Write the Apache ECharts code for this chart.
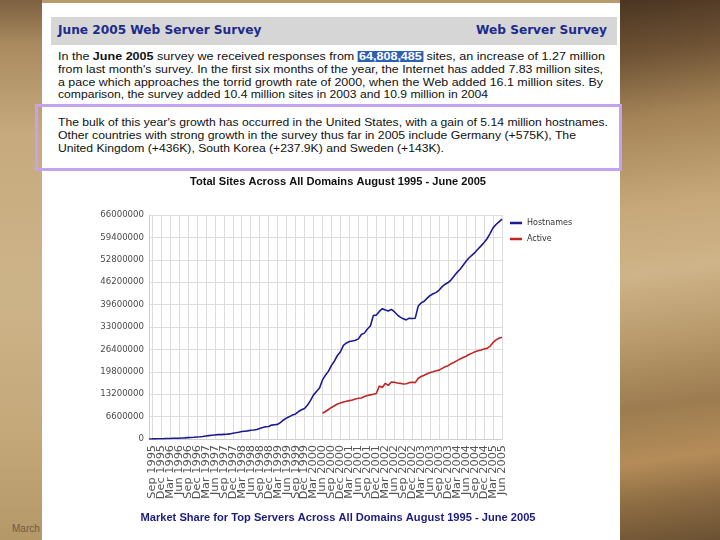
<!DOCTYPE html>
<html><head><meta charset="utf-8">
<script src="https://cdn.jsdelivr.net/npm/echarts@6/dist/echarts.min.js"></script>
<style>
html,body{margin:0;padding:0;width:720px;height:540px;overflow:hidden;}
body{position:relative;background:#b89a6c;}
#bgL{position:absolute;left:0;top:0;width:42px;height:540px;
 background:linear-gradient(180deg,#7d6040 0%,#a88a5e 8%,#c7ab7f 25%,#cdb388 55%,#c4a87a 80%,#b59868 100%);}
#bgR{position:absolute;left:620px;top:0;width:100px;height:540px;
 background:linear-gradient(172deg,#4a3522 0%,#6e5234 10%,#a58558 22%,#c6a87a 38%,#cfb489 50%,#b89a6c 62%,#9c7c50 74%,#b48c58 84%,#8a6a42 92%,#6b5133 100%);}
#page{position:absolute;left:42px;top:3px;width:578px;height:537px;background:#fff;}
#hdr{position:absolute;left:51px;top:17px;width:566px;height:28px;background:#d6d6d6;}
.h{position:absolute;top:6px;font:bold 11.7px "DejaVu Sans";color:#1c2a8c;white-space:nowrap;}
.p{position:absolute;left:58px;font:10.3px "Liberation Sans";color:#111;white-space:nowrap;}
.p .ln{display:block;height:12.8px;line-height:12.8px;}
.p .ln span.t{display:inline-block;transform-origin:0 50%;}
.hl{background:#2f5fb5;color:#fff;font-weight:bold;padding:0 1px;}
#box{position:absolute;left:35px;top:104px;width:581px;height:61px;border:3px solid #c3a3ef;}
#march{position:absolute;left:12px;top:523px;font:10px "Liberation Sans";color:#6d5c46;}
#chart{position:absolute;left:0;top:0;width:720px;height:540px;z-index:5;}
</style></head>
<body>
<div id="bgL"></div><div id="bgR"></div>
<div id="march">March</div>
<div id="page"></div>
<div id="hdr"></div>
<div class="h" id="hl" style="left:58px;top:23px">June 2005 Web Server Survey</div>
<div class="h" id="hr" style="left:476px;top:23px">Web Server Survey</div>
<div class="p" id="p1" style="top:51px">
 <div class="ln"><span class="t" data-w="547">In the <b>June 2005</b> survey we received responses from <span class="hl">64,808,485</span> sites, an increase of 1.27 million</span></div>
 <div class="ln"><span class="t" data-w="545">from last month's survey. In the first six months of the year, the Internet has added 7.83 million sites,</span></div>
 <div class="ln"><span class="t" data-w="545">a pace which approaches the torrid growth rate of 2000, when the Web added 16.1 million sites. By</span></div>
 <div class="ln"><span class="t" data-w="430">comparison, the survey added 10.4 million sites in 2003 and 10.9 million in 2004</span></div>
</div>
<div id="box"></div>
<div class="p" id="p2" style="top:117px">
 <div class="ln"><span class="t" data-w="550">The bulk of this year's growth has occurred in the United States, with a gain of 5.14 million hostnames.</span></div>
 <div class="ln"><span class="t" data-w="518">Other countries with strong growth in the survey thus far in 2005 include Germany (+575K), The</span></div>
 <div class="ln"><span class="t" data-w="386">United Kingdom (+436K), South Korea (+237.9K) and Sweden (+143K).</span></div>
</div>
<div id="chart"></div>
<script>
// ---- data ----
const monthNames = ['Jan','Feb','Mar','Apr','May','Jun','Jul','Aug','Sep','Oct','Nov','Dec'];
const startYear = 1995, startMonth = 7, monthCount = 119; // Aug 1995 .. Jun 2005
const categories = [];
for (let i = 0; i < monthCount; i++) {
  const mi = startMonth + i;
  categories.push(monthNames[mi % 12] + ' ' + (startYear + Math.floor(mi / 12)));
}
// Hostnames, millions, monthly Aug 1995 - Jun 2005
const hostnames = [0.02,0.03,0.05,0.07,0.08,0.1,0.13,0.16,0.2,0.22,
 0.23,0.3,0.34,0.4,0.46,0.5,0.6,0.65,0.74,0.9,
 1.0,1.1,1.2,1.3,1.3,1.35,1.4,1.5,1.68,1.83,
 2.0,2.2,2.3,2.4,2.6,2.65,2.8,3.1,3.4,3.6,
 3.7,4.1,4.2,4.3,4.9,5.6,6.2,6.6,7.1,7.4,
 8.1,8.6,9.0,10.0,11.4,13.0,14.0,15.0,17.4,18.8,
 20.0,21.7,23.0,24.6,25.7,27.6,28.3,28.7,28.9,29.1,
 29.5,30.8,31.2,32.4,33.3,36.4,36.5,37.6,38.4,38.0,
 37.7,38.2,37.5,36.6,35.9,35.4,35.1,35.6,35.5,35.6,
 39.2,40.1,40.6,41.5,42.3,42.8,43.2,43.9,44.9,45.6,
 46.1,46.9,48.0,49.1,50.0,51.2,52.4,53.4,54.2,55.0,
 56.0,56.9,57.9,59.0,60.5,62.2,63.2,64.0,64.8];
// Active sites, millions, monthly Jun 2000 - Jun 2005
const activeStart = 'Jun 2000';
const active = [7.6,8.1,8.7,9.3,9.8,10.3,10.6,10.9,11.1,11.3,
 11.5,11.8,12.0,12.1,12.5,12.8,13.0,13.2,13.4,15.6,
 15.2,16.4,15.8,16.8,16.7,16.5,16.4,16.2,16.3,16.6,
 16.7,16.6,17.9,18.4,18.8,19.2,19.6,19.8,20.1,20.3,
 20.8,21.3,21.6,22.2,22.6,23.1,23.6,24.0,24.4,24.9,
 25.3,25.7,26.0,26.2,26.5,26.7,27.3,28.4,29.2,29.7,30.0];
const yMax = 66000000, yStep = 6600000;
const seriesNames = ['Hostnames','Active'];
const chartTitle = 'Total Sites Across All Domains August 1995 - June 2005';
const nextTitle = 'Market Share for Top Servers Across All Domains August 1995 - June 2005';

// ---- fit text lines ----
document.querySelectorAll('.p .t').forEach(el => {
  const w = +el.dataset.w, r = el.getBoundingClientRect().width;
  el.style.transform = 'scaleX(' + (w / r) + ')';
});
(function(){
  const hr = document.getElementById('hr'), hl = document.getElementById('hl');
  const s = 131 / hr.getBoundingClientRect().width;
  [hr, hl].forEach(e => { e.style.transformOrigin = '0 50%'; e.style.transform = 'scaleX(' + s + ')'; });
})();
function fitScale(text, font, w) {
  const c = document.createElement('canvas').getContext('2d');
  c.font = font; return w / c.measureText(text).width;
}

// ---- chart ----
const hostData = hostnames.map(v => Math.round(v * 1e6));
const aIdx = categories.indexOf(activeStart);
const activeData = categories.map((c, i) => (i >= aIdx ? Math.round(active[i - aIdx] * 1e6) : null));
const quarterly = (i) => i % 3 === 1;
const tFont = 'bold 10px "Liberation Sans"';
const nFont = 'bold 11px "Liberation Sans"';
const chart = echarts.init(document.getElementById('chart'), null, {renderer: 'canvas'});
chart.setOption({
  animation: false,
  grid: {left: 149, top: 215, width: 353, height: 224, containLabel: false},
  legend: {
    orient: 'vertical', left: 505, top: 213, itemWidth: 12, itemHeight: 2.5, itemGap: 6,
    icon: 'rect', data: seriesNames,
    textStyle: {fontSize: 8, fontFamily: 'DejaVu Sans', color: '#333', lineHeight: 10}
  },
  xAxis: {
    type: 'category', boundaryGap: false, data: categories,
    axisLine: {show: true, lineStyle: {color: '#cfcfcf'}},
    axisTick: {show: false, interval: quarterly},
    splitLine: {show: true, interval: quarterly, lineStyle: {color: '#dedede', width: 1}},
    axisLabel: {interval: 0, formatter: (v, i) => (quarterly(i) ? v : ''),
      rotate: 90, margin: 6, fontSize: 11.3, lineHeight: 8,
      showMinLabel: false, showMaxLabel: true, hideOverlap: false,
      fontFamily: 'DejaVu Sans', color: '#555'}
  },
  yAxis: {
    type: 'value', min: 0, max: yMax, interval: yStep,
    axisLine: {show: true, lineStyle: {color: '#cfcfcf'}},
    axisTick: {show: false},
    splitLine: {show: true, lineStyle: {color: '#dedede', width: 1}},
    axisLabel: {formatter: v => String(v), fontSize: 8.6, fontFamily: 'DejaVu Sans', color: '#4a4a4a', margin: 5}
  },
  graphic: [
    {type: 'text', x: 338, y: 182, scaleX: fitScale(chartTitle, tFont, 296),
     style: {text: chartTitle, font: tFont, fill: '#111', textAlign: 'center', textVerticalAlign: 'middle'}},
    {type: 'text', x: 338, y: 518, scaleX: fitScale(nextTitle, nFont, 395),
     style: {text: nextTitle, font: nFont, fill: '#1c1c80', textAlign: 'center', textVerticalAlign: 'middle'}}
  ],
  series: [
    {name: seriesNames[0], type: 'line', data: hostData, symbol: 'none', smooth: false,
     lineStyle: {color: '#1c1c92', width: 1.6}, itemStyle: {color: '#1c1c92'}},
    {name: seriesNames[1], type: 'line', data: activeData, symbol: 'none', connectNulls: false,
     lineStyle: {color: '#c02626', width: 1.6}, itemStyle: {color: '#c02626'}}
  ]
});
</script>
</body></html>
